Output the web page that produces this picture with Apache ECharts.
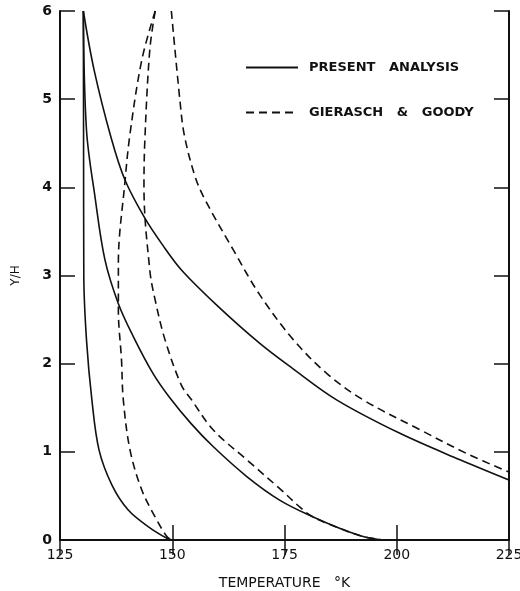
<!DOCTYPE html>
<html>
<head>
<meta charset="utf-8">
<script src="https://cdn.jsdelivr.net/npm/echarts@6/dist/echarts.min.js"></script>
<style>
  html, body { margin: 0; padding: 0; background: #fff; }
  #chart { width: 520px; height: 591px; }
</style>
</head>
<body>
<div id="chart"></div>
<script>
// temperature (K) vs y/H
const tempTicks = [125, 150, 175, 200, 225];
const heightTicks = [0, 1, 2, 3, 4, 5, 6];

// present analysis (solid)
const presentA = [[130.2, 6], [130.25, 4.5], [130.3, 3.0], [130.9, 2.27], [132.1, 1.59], [133.7, 1.02],
  [136.6, 0.62], [140.2, 0.34], [144.7, 0.15], [148.8, 0.02], [150, 0]];
const presentB = [[130.2, 6], [130.9, 4.65], [132.8, 3.89], [135.0, 3.18], [138.0, 2.68], [141.3, 2.31],
  [145.7, 1.89], [149.5, 1.61], [154.2, 1.32], [159.1, 1.06], [166.6, 0.72], [174.0, 0.45],
  [181.4, 0.26], [187.4, 0.13], [192.5, 0.04], [197, 0]];
const presentC = [[130.2, 6], [132.6, 5.33], [136.4, 4.56], [139.5, 4.08], [143.9, 3.65], [147.8, 3.35],
  [152.1, 3.06], [160.2, 2.65], [169.5, 2.23], [176.7, 1.95], [186.6, 1.59], [200.7, 1.21],
  [214.1, 0.91], [225, 0.68]];

// Gierasch & Goody (dashed)
const goodyA = [[146.2, 6], [143.2, 5.44], [140.6, 4.61], [139.5, 4.08], [138.0, 3.14], [138.0, 2.61],
  [138.7, 2.04], [139.1, 1.59], [140.6, 1.02], [143.2, 0.57], [146.2, 0.26], [148.8, 0.04], [150, 0]];
const goodyB = [[146.2, 6], [145.0, 5.56], [143.9, 4.54], [143.7, 4.0], [145.0, 3.06], [146.2, 2.72],
  [148.4, 2.27], [152.0, 1.76], [154.3, 1.59], [159.1, 1.25], [166.6, 0.91], [174.0, 0.58],
  [178.5, 0.37], [181.4, 0.26], [187.4, 0.13], [192.5, 0.04], [197, 0]];
const goodyC = [[149.8, 6], [151.7, 4.99], [152.7, 4.59], [155.1, 4.12], [157.3, 3.86], [163.6, 3.29],
  [169.5, 2.78], [177.0, 2.27], [184.4, 1.89], [192.5, 1.59], [205.2, 1.25], [215.6, 0.98], [225, 0.77]];

const SOLID = 'PRESENT   ANALYSIS';
const DASHED = 'GIERASCH   &   GOODY';
const FONT = 'DejaVu Sans';
const INK = '#111';

function curve(name, data, dashed) {
  return {
    name: name,
    type: 'line',
    data: data,
    symbol: 'none',
    showSymbol: false,
    smooth: 0.35,
    clip: true,
    itemStyle: { color: INK },
    lineStyle: {
      color: INK,
      width: 1.6,
      type: dashed ? [8, 5] : 'solid'
    }
  };
}

const chart = echarts.init(document.getElementById('chart'), null, { renderer: 'canvas' });

const frameLine = { show: true, lineStyle: { color: INK, width: 2 } };
const innerTick = { show: true, inside: true, length: 15, lineStyle: { color: INK, width: 1.5 } };

chart.setOption({
  animation: false,
  backgroundColor: '#fff',
  grid: { left: 60, right: 11, top: 11, bottom: 51, containLabel: false, outerBoundsMode: 'none' },
  legend: {
    orient: 'vertical',
    left: 240,
    top: 56,
    itemWidth: 52,
    itemHeight: 14,
    itemGap: 32,
    data: [SOLID, DASHED],
    itemStyle: { opacity: 0 },
    textStyle: { fontFamily: FONT, fontSize: 13, fontWeight: 'bold', color: INK, padding: [0, 0, 0, 6] }
  },
  xAxis: [{
    type: 'value',
    min: tempTicks[0],
    max: tempTicks[tempTicks.length - 1],
    interval: 25,
    name: 'TEMPERATURE   °K',
    nameLocation: 'middle',
    nameGap: 36,
    nameTextStyle: { fontFamily: FONT, fontSize: 14, color: INK },
    axisLine: frameLine,
    axisTick: innerTick,
    splitLine: { show: false },
    axisLabel: { fontFamily: FONT, fontSize: 14, color: INK, margin: 8 }
  }, {
    type: 'value',
    position: 'top',
    min: tempTicks[0],
    max: tempTicks[tempTicks.length - 1],
    interval: 25,
    axisLine: frameLine,
    axisTick: innerTick,
    splitLine: { show: false },
    axisLabel: { show: false }
  }],
  yAxis: [{
    type: 'value',
    min: heightTicks[0],
    max: heightTicks[heightTicks.length - 1],
    interval: 1,
    name: 'Y/H',
    nameLocation: 'middle',
    nameGap: 38,
    nameRotate: 90,
    nameTextStyle: { fontFamily: FONT, fontSize: 12, color: INK },
    axisLine: frameLine,
    axisTick: innerTick,
    splitLine: { show: false },
    axisLabel: { fontFamily: FONT, fontSize: 14, fontWeight: 'bold', color: INK, margin: 8 }
  }, {
    type: 'value',
    position: 'right',
    min: heightTicks[0],
    max: heightTicks[heightTicks.length - 1],
    interval: 1,
    axisLine: frameLine,
    axisTick: innerTick,
    splitLine: { show: false },
    axisLabel: { show: false }
  }],
  series: [
    curve(SOLID, presentA, false),
    curve(SOLID, presentB, false),
    curve(SOLID, presentC, false),
    curve(DASHED, goodyA, true),
    curve(DASHED, goodyB, true),
    curve(DASHED, goodyC, true)
  ]
});
</script>
</body>
</html>
